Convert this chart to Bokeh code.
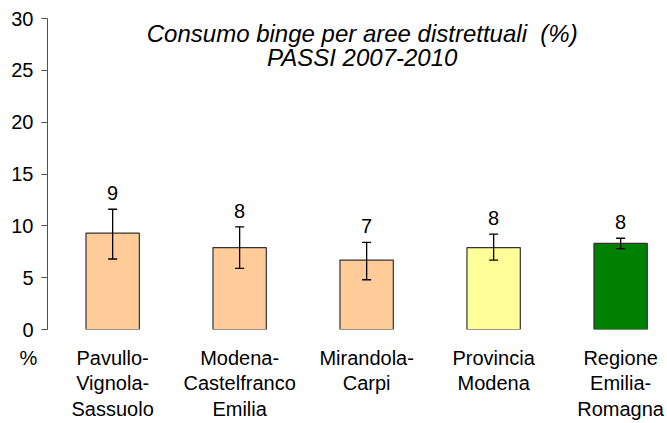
from bokeh.plotting import figure
from bokeh.models import ColumnDataSource, Whisker, TeeHead, Label, LabelSet, FixedTicker, Range1d
from bokeh.core.properties import value
from bokeh.embed import file_html
from bokeh.resources import INLINE

# ---- data ----
categories = ["Pavullo-\nVignola-\nSassuolo", "Modena-\nCastelfranco\nEmilia",
              "Mirandola-\nCarpi", "Provincia\nModena", "Regione\nEmilia-\nRomagna"]
values = [9.3, 7.9, 6.7, 7.9, 8.3]
ci_low = [6.8, 5.9, 4.8, 6.7, 7.8]
ci_high = [11.6, 9.9, 8.4, 9.2, 8.8]
value_labels = ["9", "8", "7", "8", "8"]
bar_colors = ["#FFCC99", "#FFCC99", "#FFCC99", "#FFFF99", "#008000"]
y_ticks = [0, 5, 10, 15, 20, 25, 30]
title_lines = ["Consumo binge per aree distrettuali  (%)", "PASSI 2007-2010"]
unit_label = "%"

FONT = "Liberation Sans"
FS = "20px"
X0 = -0.513

x = list(range(len(categories)))
src = ColumnDataSource(dict(x=x, top=values, lower=ci_low, upper=ci_high,
                            label=value_labels, color=bar_colors))

p = figure(width=667, height=423, output_backend="svg", toolbar_location=None,
           x_range=Range1d(X0, 4.369), y_range=Range1d(0, 30),
           min_border_left=47, min_border_right=0, min_border_top=18,
           min_border_bottom=92)
p.outline_line_color = None
p.grid.visible = False

p.vbar(x="x", top="top", bottom=0, width=0.42, fill_color="color",
       line_color="#333333", line_width=1.2, source=src)

p.add_layout(Whisker(base="x", upper="upper", lower="lower", source=src,
                     line_color="black", line_width=1.3, level="annotation",
                     upper_head=TeeHead(size=9, line_color="black", line_width=1.3),
                     lower_head=TeeHead(size=9, line_color="black", line_width=1.3)))

p.add_layout(LabelSet(x="x", y="upper", text="label", source=src,
                      text_align="center", text_baseline="alphabetic", y_offset=9,
                      text_font=value(FONT), text_font_size=value(FS),
                      text_color="black"))

for yy, t in zip([28.57, 26.27], title_lines):
    p.add_layout(Label(x=1.965, y=yy, text=t.replace("  ", " \u00a0"),
                       text_align="center", text_baseline="middle", text_font=FONT,
                       text_font_style="italic", text_font_size="24px",
                       text_color="black"))

# category axis (below), with the unit label "%" at the left edge
unit_tick = X0 + 0.003
xa = p.xaxis[0]
xa.ticker = FixedTicker(ticks=[unit_tick] + x)
overrides = {}
for xi, c in zip(x, categories):
    overrides[xi] = c
    overrides[str(xi)] = c
unit_txt = unit_label + "\u00a0" * 7
overrides[unit_tick] = unit_txt
overrides[str(unit_tick)] = unit_txt
xa.major_label_overrides = overrides
xa.axis_line_color = None
xa.major_tick_line_color = None
xa.minor_tick_line_color = None
xa.major_tick_out = 0
xa.major_tick_in = 0
xa.major_label_standoff = 17
xa.major_label_text_font = FONT
xa.major_label_text_font_size = FS
xa.major_label_text_line_height = 1.18
xa.major_label_text_color = "black"

ya = p.yaxis[0]
ya.ticker = FixedTicker(ticks=y_ticks)
ya.major_tick_out = 6
ya.major_tick_in = 0
ya.minor_tick_out = 0
ya.minor_tick_in = 0
ya.axis_line_color = "#505050"
ya.major_tick_line_color = "#505050"
ya.major_label_text_font = FONT
ya.major_label_text_font_size = FS
ya.major_label_text_color = "black"
ya.major_label_standoff = 8

open("out.html", "w").write(file_html(p, INLINE))
